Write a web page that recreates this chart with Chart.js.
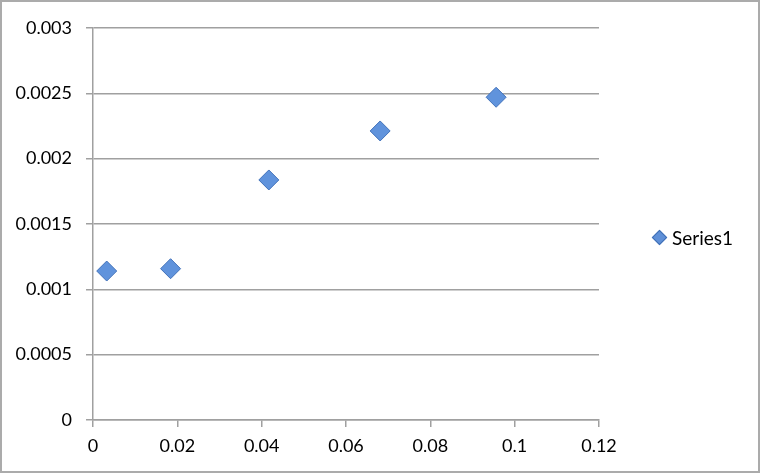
<!DOCTYPE html>
<html>
<head>
<meta charset="utf-8">
<script src="https://cdn.jsdelivr.net/npm/chart.js@4"></script>
<style>
    html, body { margin: 0; padding: 0; background: #fff; }
    #wrap { position: relative; width: 763px; height: 474px; }
    #frame { position: absolute; left: 0; top: 0; width: 756px; height: 469px; border: 2px solid #ababab; pointer-events: none; }
    #legend { position: absolute; left: 654px; top: 226px; font: 19px Lato, sans-serif; color: #000; display: flex; align-items: center; }
    #legend .mark { width: 9px; height: 9px; background: #5f90d8; border: 1px solid #3f6fb5; transform: rotate(45deg); margin-right: 7px; }
</style>
</head>
<body>
<div id="wrap">
    <canvas id="chart" width="763" height="474"></canvas>
    <div id="legend"><span class="mark"></span><span id="legendText"></span></div>
    <div id="frame"></div>
</div>
<script>
// values
const seriesName = 'Series1';
const xValues = [0.00325, 0.0184, 0.0417, 0.0681, 0.0956];
const yValues = [0.00114, 0.001158, 0.001837, 0.002212, 0.00247];

const fmt = v => String(parseFloat(Number(v).toFixed(4)));

document.getElementById('legendText').textContent = seriesName;

const points = xValues.map((x, i) => ({ x: x, y: yValues[i] }));

new Chart(document.getElementById('chart'), {
    type: 'scatter',
    data: {
        datasets: [{
            label: seriesName,
            data: points,
            pointStyle: 'rectRot',
            pointRadius: 10,
            pointHoverRadius: 10,
            backgroundColor: '#6093dc',
            borderColor: '#4272ba',
            borderWidth: 1
        }]
    },
    options: {
        responsive: false,
        animation: false,
        layout: { padding: { top: 28, right: 164, left: 0, bottom: 0 } },
        plugins: {
            legend: { display: false },
            tooltip: { enabled: false }
        },
        scales: {
            x: {
                type: 'linear',
                min: 0,
                max: 0.12,
                afterFit: s => { s.height = 54; },
                ticks: {
                    stepSize: 0.02,
                    color: '#000',
                    font: { family: 'Lato', size: 18 },
                    padding: 8,
                    maxRotation: 0,
                    callback: v => fmt(v)
                },
                grid: {
                    drawOnChartArea: false,
                    drawTicks: true,
                    tickLength: 7,
                    color: '#a0a0a0',
                    lineWidth: 1.5
                },
                border: { color: '#a0a0a0', width: 1.5 }
            },
            y: {
                min: 0,
                max: 0.003,
                afterFit: s => { s.width = 93; },
                ticks: {
                    stepSize: 0.0005,
                    color: '#000',
                    font: { family: 'Lato', size: 18 },
                    padding: 14,
                    callback: v => fmt(v)
                },
                grid: {
                    tickLength: 7,
                    color: '#a0a0a0',
                    lineWidth: 1.5
                },
                border: { color: '#a0a0a0', width: 1.5 }
            }
        }
    }
});
</script>
</body>
</html>
